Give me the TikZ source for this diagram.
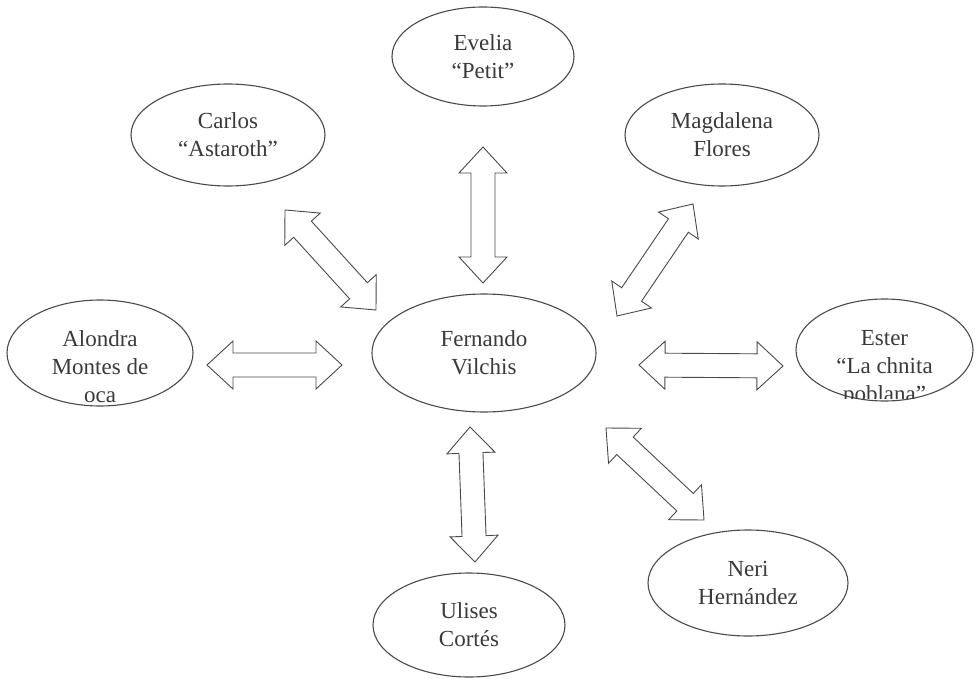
\documentclass[tikz,border=0pt]{standalone}
\usepackage{fontspec}
\setmainfont{Liberation Serif}
\usetikzlibrary{calc,shapes.geometric}
\definecolor{linegray}{HTML}{4A4A4A}
\definecolor{textgray}{HTML}{3A3A3A}
\tikzset{
  person/.style={ellipse, draw=linegray, line width=1.1pt, inner sep=0pt, fill=white},
  lbl/.style={text=textgray, font=\fontsize{23}{28}\selectfont, align=center, inner sep=0pt},
  blockarr/.style={draw=linegray, line width=0.9pt, line join=miter, fill=white},
}
% double block arrow between two named coordinates
\newcommand\dblarr[2]{%
  \path (#1) coordinate (da) (#2) coordinate (db);
  \path ($(da)!26pt!(db)$) coordinate (dh1) ($(db)!26pt!(da)$) coordinate (dh2);
  \draw[blockarr] (da) -- ($(dh1)!24pt!90:(db)$) -- ($(dh1)!12pt!90:(db)$)
    -- ($(dh2)!12pt!-90:(da)$) -- ($(dh2)!24pt!-90:(da)$) -- (db)
    -- ($(dh2)!24pt!90:(da)$) -- ($(dh2)!12pt!90:(da)$)
    -- ($(dh1)!12pt!-90:(db)$) -- ($(dh1)!24pt!-90:(db)$) -- cycle;}
\begin{document}
\begin{tikzpicture}[x=1pt,y=-1pt]
\useasboundingbox (0,0) rectangle (977,679);
\fill[white] (0,0) rectangle (977,679);

% ellipses
\node[person, minimum width=182pt, minimum height=99pt] (evelia) at (483,56.5) {};
\node[lbl] (eveliaT) at (evelia.center) {Evelia\\“Petit”};

\node[person, minimum width=194pt, minimum height=102pt] (carlos) at (228,135) {};
\node[lbl] (carlosT) at (carlos.center) {Carlos\\“Astaroth”};

\node[person, minimum width=194pt, minimum height=102pt] (magda) at (722,135) {};
\node[lbl] (magdaT) at (magda.center) {Magdalena\\Flores};

\node[person, minimum width=224pt, minimum height=118pt] (fernando) at (484,353) {};
\node[lbl] (fernandoT) at (fernando.center) {Fernando\\Vilchis};

\node[person, minimum width=186pt, minimum height=106pt] (alondra) at (100,353) {};
\node[lbl] (alondraT) at (100,367) {Alondra\\Montes de\\oca};

\node[person, minimum width=177pt, minimum height=102pt] (ester) at (884.5,350) {};
\begin{scope}
  \clip (780,290) rectangle (977,398);
  \node[lbl] (esterT) at (884.5,368) {Ester\\“La chnita\\poblana”};
\end{scope}

\node[person, minimum width=200pt, minimum height=106pt] (neri) at (748,583) {};
\node[lbl] (neriT) at (neri.center) {Neri\\Hernández};

\node[person, minimum width=192pt, minimum height=104pt] (ulises) at (469,625) {};
\node[lbl] (ulisesT) at (ulises.center) {Ulises\\Cortés};

% arrow end points
\coordinate (t1) at (483,147);  \coordinate (t2) at (483,283);
\coordinate (c1) at (285,210);  \coordinate (c2) at (376,310);
\coordinate (m1) at (693,204);  \coordinate (m2) at (617,316);
\coordinate (l1) at (207,365);  \coordinate (l2) at (342,365);
\coordinate (r1) at (639,365);  \coordinate (r2) at (783,366);
\coordinate (b1) at (470,427);  \coordinate (b2) at (475,562);
\coordinate (n1) at (606,428);  \coordinate (n2) at (704,520);

\dblarr{t1}{t2}
\dblarr{c1}{c2}
\dblarr{m1}{m2}
\dblarr{l1}{l2}
\dblarr{r1}{r2}
\dblarr{b1}{b2}
\dblarr{n1}{n2}
\end{tikzpicture}
\end{document}
